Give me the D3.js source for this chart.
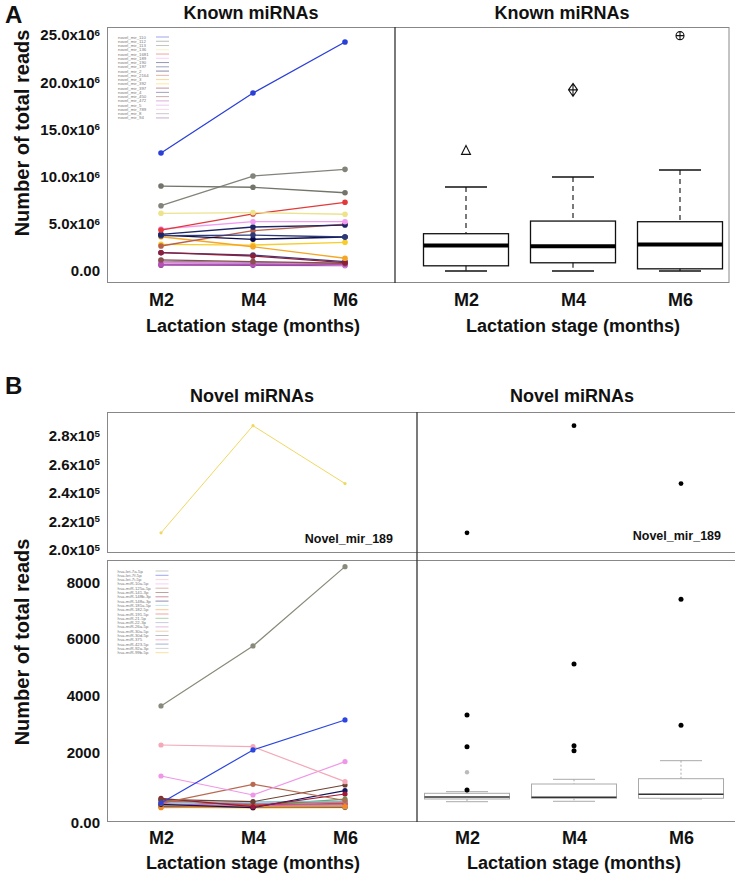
<!DOCTYPE html>
<html>
<head>
<meta charset="utf-8">
<script src="https://cdn.jsdelivr.net/npm/d3@7"></script>
<style>
  body { margin: 0; background: #fff; }
  svg { font-family: "Liberation Sans", Arial, Helvetica, sans-serif; }
</style>
</head>
<body>
<div id="chart"></div>
<script>
  'use strict';

  // ---- data ----
  var stages = ['M2', 'M4', 'M6'];

  var knownNames = ['novel_mir_110', 'novel_mir_112', 'novel_mir_113', 'novel_mir_136', 'novel_mir_1681',
    'novel_mir_189', 'novel_mir_190', 'novel_mir_197', 'novel_mir_2', 'novel_mir_2164',
    'novel_mir_3', 'novel_mir_392', 'novel_mir_397', 'novel_mir_4', 'novel_mir_450',
    'novel_mir_472', 'novel_mir_5', 'novel_mir_789', 'novel_mir_8', 'novel_mir_94'];

  // reads at M2, M4, M6
  var knownReads = [
    [12500000, 18860000, 24260000],
    [9000000, 8870000, 8290000],
    [6920000, 10060000, 10770000],
    [6110000, 6180000, 6010000],
    [4340000, 6040000, 7280000],
    [4450000, 5220000, 5220000],
    [3890000, 4660000, 4870000],
    [3740000, 3810000, 3600000],
    [3810000, 3360000, 3600000],
    [2650000, 4270000, 4950000],
    [3630000, 2570000, 1350000],
    [2830000, 2750000, 3040000],
    [1940000, 1590000, 880000],
    [1940000, 1690000, 990000],
    [1170000, 990000, 820000],
    [710000, 710000, 710000],
    [920000, 820000, 640000],
    [850000, 780000, 660000],
    [1050000, 900000, 750000],
    [620000, 600000, 580000]
  ];

  var knownBoxLow = [0, 0, 0];
  var knownBoxQ1 = [550000, 870000, 230000];
  var knownBoxMedian = [2710000, 2630000, 2810000];
  var knownBoxQ3 = [3950000, 5290000, 5220000];
  var knownBoxHigh = [8900000, 9960000, 10700000];
  var knownOutliers = [12720000, 19190000, 24930000];

  var novelName = 'Novel_mir_189';
  var novelReads = [212000, 287000, 246500];

  var hsaNames = ['hsa-let-7a-5p', 'hsa-let-7f-5p', 'hsa-let-7i-5p', 'hsa-miR-10a-5p', 'hsa-miR-125a-5p',
    'hsa-miR-141-3p', 'hsa-miR-148b-3p', 'hsa-miR-148a-3p', 'hsa-miR-181a-5p', 'hsa-miR-182-5p',
    'hsa-miR-191-5p', 'hsa-miR-21-5p', 'hsa-miR-22-3p', 'hsa-miR-26a-5p', 'hsa-miR-30a-5p',
    'hsa-miR-30d-5p', 'hsa-miR-375', 'hsa-miR-423-5p', 'hsa-miR-92a-3p', 'hsa-miR-99b-5p'];

  var hsaReads = [
    [3636, 5753, 8553],
    [212, 2083, 3142],
    [2259, 2199, 964],
    [1165, 494, 1670],
    [200, 872, 300],
    [342, 258, 847],
    [377, 81, 529],
    [165, 46, 646],
    [230, 250, 282],
    [46, 81, 81],
    [280, 150, 200],
    [310, 120, 350],
    [260, 200, 240],
    [190, 110, 170],
    [140, 90, 130],
    [120, 60, 110],
    [300, 180, 260],
    [90, 70, 60],
    [250, 140, 160],
    [60, 40, 50]
  ];

  var hsaBoxLow = [258, 272, 353];
  var hsaBoxQ1 = [353, 378, 378];
  var hsaBoxMedian = [424, 413, 519];
  var hsaBoxQ3 = [554, 882, 1070];
  var hsaBoxHigh = [611, 1048, 1705];
  var hsaOutliers = [[3318, 2199, 671], [5118, 2234, 2058], [7402, 2954]];
  var hsaFaintOutliers = [[1295], [], []];

  // ---- styles ----
  var knownColors = ['#2a3fd8', '#74746a', '#83837a', '#ece38c', '#e23a3a', '#f39af3', '#1e2566', '#2e3a78',
    '#0a0a4a', '#b8604a', '#f5a623', '#f7cd2e', '#8e1f3a', '#3a3a80', '#8a5050', '#b84fb8',
    '#d08ee0', '#f2b0d8', '#9a8a9a', '#9050a0'];
  var hsaColors = ['#8a8a7a', '#2a45e0', '#f4a8b8', '#f096e8', '#b86a50', '#6e4030', '#a01838', '#14145a',
    '#7fc4c8', '#f58a20', '#e04040', '#50a050', '#9090c0', '#c070c0', '#d0a060', '#707070',
    '#e07090', '#4060a0', '#a0a0a0', '#f0c040'];

  var W = 747, H = 882;
  var frameColor = '#888';

  var svg = d3.select('#chart').append('svg')
    .attr('width', W)
    .attr('height', H);

  // shared x positions
  var xLeft = d3.scalePoint().domain(stages).range([161, 345]);
  var xRightA = d3.scalePoint().domain(stages).range([466, 680]);
  var xRightB = d3.scalePoint().domain(stages).range([467, 681]);

  // y scales
  var yA = d3.scaleLinear().domain([0, 25000000]).range([271, 35]);
  var yBtop = d3.scaleLinear().domain([200000, 280000]).range([550, 435.7]);
  var yBbot = d3.scaleLinear().domain([0, 8000]).range([809, 582.3]);

  // ---- frames ----
  function hline(x1, x2, y, color) {
    svg.append('line').attr('x1', x1).attr('x2', x2).attr('y1', y).attr('y2', y)
      .attr('stroke', color || frameColor).attr('stroke-width', 1);
  }
  function vline(x, y1, y2, color, w) {
    svg.append('line').attr('x1', x).attr('x2', x).attr('y1', y1).attr('y2', y2)
      .attr('stroke', color || frameColor).attr('stroke-width', w || 1);
  }

  // panel A
  hline(107, 729, 27.5);
  hline(107, 729, 282.5);
  vline(107.5, 27, 283);
  vline(729, 27, 283);
  vline(395, 27, 283, '#333', 1.3);

  // panel B
  hline(107, 735, 412.5);
  hline(107, 735, 552.5);
  hline(107, 735, 560.5);
  hline(107, 735, 821.5);
  vline(107.5, 412, 553);
  vline(107.5, 560, 822);
  vline(417, 412, 822, '#333', 1.3);

  // ---- text helpers ----
  function label(x, y, text, size, anchor) {
    return svg.append('text')
      .attr('x', x).attr('y', y)
      .attr('text-anchor', anchor || 'middle')
      .attr('font-size', size)
      .attr('font-weight', 'bold')
      .attr('fill', '#111')
      .text(text);
  }

  label(5, 23, 'A', 24, 'start');
  label(5, 394, 'B', 24, 'start');

  label(251, 19, 'Known miRNAs', 18);
  label(562, 19, 'Known miRNAs', 18);
  label(252, 402, 'Novel miRNAs', 18);
  label(572, 402, 'Novel miRNAs', 18);

  svg.append('text')
    .attr('transform', 'translate(29,133) rotate(-90)')
    .attr('text-anchor', 'middle').attr('font-size', 20).attr('font-weight', 'bold').attr('fill', '#111')
    .text('Number of total reads');
  svg.append('text')
    .attr('transform', 'translate(29,642) rotate(-90)')
    .attr('text-anchor', 'middle').attr('font-size', 20).attr('font-weight', 'bold').attr('fill', '#111')
    .text('Number of total reads');

  // ---- y axes ----
  function yAxis(scale, ticks, fmt, zeroShift) {
    var g = svg.append('g').attr('transform', 'translate(107,0)');
    g.call(d3.axisLeft(scale).tickValues(ticks).tickSize(0).tickPadding(7).tickFormat(''));
    g.select('.domain').remove();
    g.selectAll('.tick text')
      .attr('font-size', 15).attr('font-weight', 'bold').attr('fill', '#111')
      .attr('font-family', '"Liberation Sans", Arial, sans-serif')
      .each(function (d) {
        var t = d3.select(this);
        var f = fmt(d);
        t.text(f[0]);
        if (f[1]) {
          t.append('tspan').attr('dy', '-0.45em').attr('font-size', '0.65em').text(f[1]);
        }
        if (d === 0 && zeroShift) t.attr('y', zeroShift);
      });
  }

  yAxis(yA, [0, 5e6, 10e6, 15e6, 20e6, 25e6], function (d) {
    return d === 0 ? ['0.00'] : [(d / 1e6).toFixed(1) + 'x10', '6'];
  });
  yAxis(yBtop, [2e5, 2.2e5, 2.4e5, 2.6e5, 2.8e5], function (d) {
    return [(d / 1e5).toFixed(1) + 'x10', '5'];
  });
  yAxis(yBbot, [0, 2000, 4000, 6000, 8000], function (d) {
    return d === 0 ? ['0.00'] : [String(d)];
  }, 14);

  // ---- x axes ----
  function xAxis(scale, y, titleY) {
    var g = svg.append('g').attr('transform', 'translate(0,' + y + ')');
    g.call(d3.axisBottom(scale).tickSize(0).tickPadding(0));
    g.select('.domain').remove();
    g.selectAll('.tick text')
      .attr('font-size', 18).attr('font-weight', 'bold').attr('fill', '#111')
      .attr('font-family', '"Liberation Sans", Arial, sans-serif');
    var r = scale.range();
    label((r[0] + r[1]) / 2, titleY, 'Lactation stage (months)', 18);
  }

  xAxis(xLeft, 293, 332);
  xAxis(xRightA, 293, 332);
  xAxis(xLeft, 831, 869);
  xAxis(xRightB, 831, 869);

  // ---- line series ----
  function drawSeries(data, colors, y, r, w) {
    var line = d3.line()
      .x(function (d, i) { return xLeft(stages[i]); })
      .y(function (d) { return y(d); });

    var g = svg.append('g');
    // draw bottom-most first so the larger series sit on top
    var order = d3.range(data.length).reverse();
    order.forEach(function (k) {
      g.append('path')
        .attr('d', line(data[k]))
        .attr('fill', 'none')
        .attr('stroke', colors[k])
        .attr('stroke-width', w);
      g.selectAll(null)
        .data(data[k])
        .enter().append('circle')
        .attr('cx', function (d, i) { return xLeft(stages[i]); })
        .attr('cy', function (d) { return y(d); })
        .attr('r', r)
        .attr('fill', colors[k]);
    });
  }

  drawSeries(knownReads, knownColors, yA, 2.8, 1.3);
  drawSeries([novelReads], ['#f0d860'], yBtop, 1.6, 1);
  drawSeries(hsaReads, hsaColors, yBbot, 2.6, 1.2);

  // ---- legends ----
  function legend(names, colors, x, y0, step) {
    var g = svg.append('g');
    names.forEach(function (n, i) {
      var y = y0 + i * step;
      g.append('text')
        .attr('x', x).attr('y', y + 1.5)
        .attr('font-size', 4.3)
        .attr('fill', '#777')
        .text(n);
      g.append('line')
        .attr('x1', x + 38).attr('x2', x + 51)
        .attr('y1', y).attr('y2', y)
        .attr('stroke', colors[i])
        .attr('stroke-opacity', 0.6)
        .attr('stroke-width', 0.8);
    });
  }

  legend(knownNames, knownColors, 118, 37, 4.26);
  legend(hsaNames, hsaColors, 117.5, 571, 4.3);

  // ---- series name labels in B top ----
  label(393, 543, novelName, 12.5, 'end');
  label(721, 540, novelName, 12.5, 'end');

  // ---- box plots ----
  function drawBoxes(x, y, low, q1, med, q3, high, opts) {
    var g = svg.append('g');
    var bw = 85, cw = 21;
    stages.forEach(function (s, i) {
      var cx = x(s);
      g.append('line')
        .attr('x1', cx).attr('x2', cx)
        .attr('y1', y(high[i])).attr('y2', y(q3[i]))
        .attr('stroke', opts.whisker).attr('stroke-width', opts.w)
        .attr('stroke-dasharray', opts.dash);
      g.append('line')
        .attr('x1', cx).attr('x2', cx)
        .attr('y1', y(q1[i])).attr('y2', y(low[i]))
        .attr('stroke', opts.whisker).attr('stroke-width', opts.w)
        .attr('stroke-dasharray', opts.dash);
      [high[i], low[i]].forEach(function (v) {
        g.append('line')
          .attr('x1', cx - cw).attr('x2', cx + cw)
          .attr('y1', y(v)).attr('y2', y(v))
          .attr('stroke', opts.box).attr('stroke-width', opts.w);
      });
      g.append('rect')
        .attr('x', cx - bw / 2).attr('width', bw)
        .attr('y', y(q3[i])).attr('height', y(q1[i]) - y(q3[i]))
        .attr('fill', 'none')
        .attr('stroke', opts.box).attr('stroke-width', opts.w);
      g.append('line')
        .attr('x1', cx - bw / 2).attr('x2', cx + bw / 2)
        .attr('y1', y(med[i])).attr('y2', y(med[i]))
        .attr('stroke', opts.median).attr('stroke-width', opts.mw);
    });
    return g;
  }

  drawBoxes(xRightA, yA, knownBoxLow, knownBoxQ1, knownBoxMedian, knownBoxQ3, knownBoxHigh,
    { box: '#111', whisker: '#333', median: '#000', w: 1.3, mw: 4, dash: '5,4' });

  // outlier symbols: triangle, diamond with plus, circle with plus
  var outG = svg.append('g').attr('fill', 'none').attr('stroke', '#111').attr('stroke-width', 1.1);
  knownOutliers.forEach(function (v, i) {
    var cx = xRightA(stages[i]), cy = yA(v);
    if (i === 0) {
      outG.append('path').attr('d', 'M' + cx + ',' + (cy - 5.5) + 'L' + (cx + 4.5) + ',' + (cy + 3.5) + 'L' + (cx - 4.5) + ',' + (cy + 3.5) + 'Z');
    } else if (i === 1) {
      outG.append('path').attr('d', 'M' + cx + ',' + (cy - 6.5) + 'L' + (cx + 4.5) + ',' + cy + 'L' + cx + ',' + (cy + 6.5) + 'L' + (cx - 4.5) + ',' + cy + 'Z'
        + 'M' + cx + ',' + (cy - 6.5) + 'V' + (cy + 6.5) + 'M' + (cx - 4.5) + ',' + cy + 'H' + (cx + 4.5));
    } else {
      outG.append('circle').attr('cx', cx).attr('cy', cy).attr('r', 4);
      outG.append('path').attr('d', 'M' + cx + ',' + (cy - 4) + 'V' + (cy + 4) + 'M' + (cx - 4) + ',' + cy + 'H' + (cx + 4));
    }
  });

  // novel miRNA points on the right
  svg.append('g').selectAll('circle')
    .data(novelReads)
    .enter().append('circle')
    .attr('cx', function (d, i) { return xRightB(stages[i]); })
    .attr('cy', function (d) { return yBtop(d); })
    .attr('r', 2.4)
    .attr('fill', '#000');

  drawBoxes(xRightB, yBbot, hsaBoxLow, hsaBoxQ1, hsaBoxMedian, hsaBoxQ3, hsaBoxHigh,
    { box: '#aaa', whisker: '#aaa', median: '#333', w: 1, mw: 1.5, dash: '2,2' });

  var hsaOut = svg.append('g');
  hsaOutliers.forEach(function (vals, i) {
    vals.forEach(function (v) {
      hsaOut.append('circle')
        .attr('cx', xRightB(stages[i])).attr('cy', yBbot(v))
        .attr('r', 2.5).attr('fill', '#000');
    });
  });
  hsaFaintOutliers.forEach(function (vals, i) {
    vals.forEach(function (v) {
      hsaOut.append('circle')
        .attr('cx', xRightB(stages[i])).attr('cy', yBbot(v))
        .attr('r', 2.2).attr('fill', '#bbb');
    });
  });
</script>
</body>
</html>
